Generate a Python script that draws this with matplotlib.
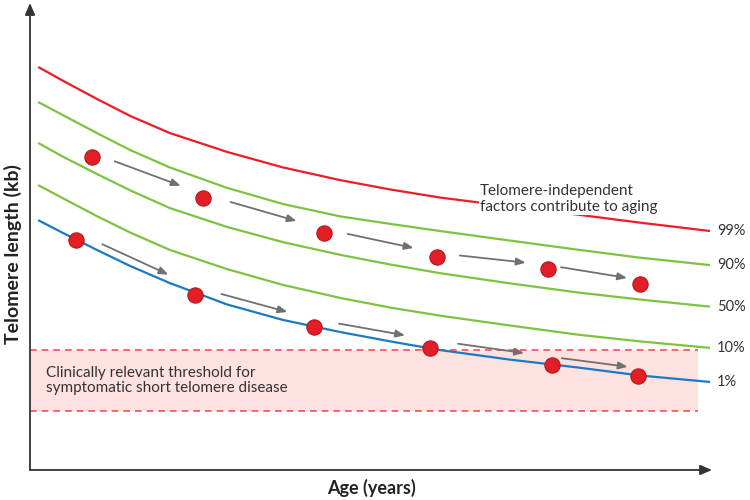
import numpy as np
import matplotlib
matplotlib.use("Agg")
import matplotlib.pyplot as plt

plt.rcParams['font.family'] = ['Lato', 'DejaVu Sans']

# ---- data (arbitrary schematic units) ----
curve_age = [1.2, 4.8, 9.8, 14.7, 20.5, 28.9, 37.1, 45.5, 52.8, 60.1, 70.4, 80.2, 89.4, 99.7]
red_kb = [13.00, 12.56, 11.97, 11.42, 10.87, 10.26, 9.76, 9.35, 9.05, 8.79, 8.50, 8.24, 7.98, 7.71]
g90_kb = [11.87, 11.45, 10.87, 10.32, 9.76, 9.10, 8.58, 8.18, 7.94, 7.71, 7.40, 7.11, 6.85, 6.61]
g50_kb = [10.55, 10.11, 9.55, 9.02, 8.45, 7.84, 7.35, 6.94, 6.63, 6.35, 6.02, 5.73, 5.50, 5.27]
g10_kb = [9.19, 8.77, 8.19, 7.66, 7.10, 6.48, 5.97, 5.55, 5.24, 4.98, 4.66, 4.37, 4.15, 3.94]
blue_kb = [8.06, 7.65, 7.10, 6.58, 6.03, 5.34, 4.84, 4.45, 4.15, 3.87, 3.56, 3.31, 3.05, 2.84]

upper_age = [9.1, 25.4, 43.1, 59.7, 76.0, 89.4]
upper_kb = [10.10, 8.77, 7.65, 6.87, 6.48, 6.00]
lower_age = [6.7, 24.2, 41.6, 58.7, 76.5, 89.1]
lower_kb = [7.42, 5.65, 4.61, 3.94, 3.39, 3.03]

band_top = 3.87
band_bottom = 1.90
band_end = 97.9

pct_labels = ['99%', '90%', '50%', '10%', '1%']

# ---- figure ----
fig = plt.figure(figsize=(7.5, 5), dpi=100)
ax = fig.add_axes([30/750, 30/500, 682/750, 467/500])
ax.set_xlim(0, 100)
ax.set_ylim(0, 467/31)
for s in ax.spines.values():
    s.set_visible(False)
ax.set_xticks([])
ax.set_yticks([])

# axes arrows
axis_col = '#333333'
for tip in ((0, 1), (1, 0)):
    ax.annotate('', xy=tip, xytext=(0, 0), xycoords='axes fraction',
                arrowprops=dict(arrowstyle='-|>,head_length=0.7,head_width=0.3',
                                color=axis_col, lw=1.3, shrinkA=0, shrinkB=0))

# threshold band
ax.fill_between([0, band_end], band_bottom, band_top, color='#fde2e0', lw=0, zorder=1)
for yv in (band_top, band_bottom):
    ax.plot([0, band_end], [yv, yv], color='#f0505a', lw=1.2,
            dashes=(4, 3), zorder=2)

ax.text(2.35, (band_top + band_bottom) / 2,
        'Clinically relevant threshold for\nsymptomatic short telomere disease',
        fontsize=11, color='#333333', va='center', ha='left', zorder=5,
        linespacing=1.15)

# curves
green = '#7dc242'
curves = [(red_kb, '#ee1c25'), (g90_kb, green), (g50_kb, green),
          (g10_kb, green), (blue_kb, '#1b7ac2')]
for (ya, c), lab in zip(curves, pct_labels):
    ax.plot(curve_age, ya, color=c, lw=1.6, zorder=3, solid_capstyle='butt',
            solid_joinstyle='round')
    ax.text(curve_age[-1] + 1.0, ya[-1], lab, fontsize=10.5, color='#333333',
            va='center', ha='left', clip_on=False)

# annotation text with white box hiding the red line
ax.text(66.0, 8.75,
        'Telomere-independent\nfactors contribute to aging',
        fontsize=11, color='#333333', va='center', ha='left', zorder=4,
        linespacing=1.15,
        bbox=dict(facecolor='white', edgecolor='none', pad=1.0))

# arrows between consecutive dots
def draw_arrows(xs, ys, offset_px):
    pts = ax.transData.transform(np.column_stack([xs, ys]))
    inv = ax.transData.inverted()
    for p0, p1 in zip(pts[:-1], pts[1:]):
        mid = (p0 + p1) / 2
        d = p1 - p0
        u = d / np.hypot(*d)
        half = 33 / u[0]
        a = mid - u * half + np.array([0, offset_px])
        b = mid + u * half + np.array([0, offset_px])
        a_d, b_d = inv.transform(a), inv.transform(b)
        ax.annotate('', xy=b_d, xytext=a_d,
                    arrowprops=dict(arrowstyle='-|>,head_length=0.55,head_width=0.22',
                                    color='#707070', lw=1.3, shrinkA=0, shrinkB=0),
                    zorder=4)

draw_arrows(upper_age, upper_kb, 4)
draw_arrows(lower_age, lower_kb, 8)

# dots
for xs, ys in ((upper_age, upper_kb), (lower_age, lower_kb)):
    ax.plot(xs, ys, 'o', ms=11, mfc='#e41e26', mec='#b3171d', mew=0.8,
            zorder=6, linestyle='none')

# axis labels
fig.text(371/750, 1 - 488/500, 'Age (years)', fontsize=13, fontweight='bold',
         ha='center', va='center', color='#222222')
fig.text(13/750, 1 - 254/500, 'Telomere length (kb)', fontsize=14,
         fontweight='bold', ha='center', va='center', rotation=90,
         color='#222222')

fig.savefig('out.png', dpi=100)
